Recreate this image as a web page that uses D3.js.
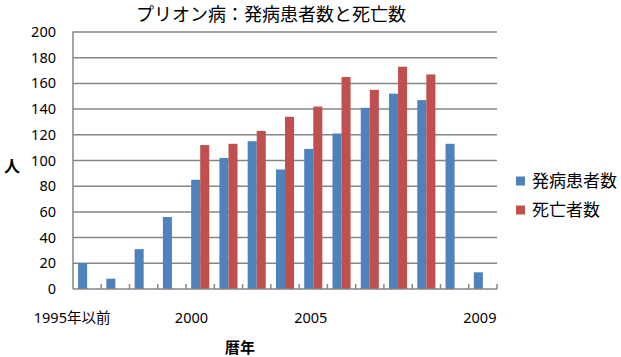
<!DOCTYPE html>
<html><head><meta charset="utf-8">
<script src="https://cdn.jsdelivr.net/npm/d3@7/dist/d3.min.js"></script>
<style>
html,body{margin:0;padding:0;background:#fff;}
svg{display:block;}
</style></head>
<body>
<script>
const categories = ["1995年以前","1996","1997","1998","1999","2000","2001","2002","2003","2004","2005","2006","2007","2008","2009"];
const onsetValues = [20,8,31,56,85,102,115,93,109,121,141,152,147,113,13];
const deathValues = [null,null,null,null,112,113,123,134,142,165,155,173,167,null,null];
const seriesNames = ["発病患者数","死亡者数"];
const yTicks = [0,20,40,60,80,100,120,140,160,180,200];
const xTickLabels = ["1995年以前","2000","2005","2009"];
const titleText = "プリオン病：発病患者数と死亡数";
const yTitle = "人";
const xTitle = "暦年";

const W = 621, H = 357;
const colors = ["#4F81BD","#C0504D"];
const font = "'Noto Sans', 'Noto Sans CJK JP', sans-serif";
const plot = {left:73, right:497, top:32, bottom:289};

const svg = d3.select("body").append("svg").attr("width",W).attr("height",H);

const x = d3.scaleBand().domain(categories).range([plot.left, plot.right]).paddingInner(0).paddingOuter(0);
const y = d3.scaleLinear().domain([0,200]).range([plot.bottom, plot.top]);
const bw = x.bandwidth();
const barW = bw*0.32;

// gridlines
svg.append("g").selectAll("line").data(yTicks.filter(d=>d>0)).join("line")
  .attr("x1",plot.left).attr("x2",plot.right)
  .attr("y1",d=>y(d)).attr("y2",d=>y(d))
  .attr("stroke","#868686").attr("stroke-width",1.5);

// bars
const series = [onsetValues, deathValues];
series.forEach((vals,si)=>{
  svg.append("g").selectAll("rect")
    .data(categories.map((c,i)=>({c, v:vals[i]})).filter(d=>d.v!=null))
    .join("rect")
    .attr("x",d=>x(d.c)+bw/2 - barW + si*barW)
    .attr("width",barW)
    .attr("y",d=>y(d.v))
    .attr("height",d=>y(0)-y(d.v))
    .attr("fill",colors[si]);
});

// axes lines
svg.append("line").attr("x1",plot.left).attr("x2",plot.left).attr("y1",plot.top-0.5).attr("y2",plot.bottom)
  .attr("stroke","#868686").attr("stroke-width",1.5);
svg.append("line").attr("x1",plot.left).attr("x2",plot.right).attr("y1",plot.bottom).attr("y2",plot.bottom)
  .attr("stroke","#868686").attr("stroke-width",1.5);
// category boundary ticks (inside)
svg.append("g").selectAll("line").data(categories.slice(1).concat(["__end"])).join("line")
  .attr("x1",d=>d==="__end"?plot.right:x(d)).attr("x2",d=>d==="__end"?plot.right:x(d))
  .attr("y1",plot.bottom).attr("y2",plot.bottom-5)
  .attr("stroke","#868686").attr("stroke-width",1.5);

// y tick labels
svg.append("g").selectAll("text").data(yTicks).join("text")
  .attr("x",56).attr("y",d=>y(d)).attr("dy","0.35em")
  .attr("text-anchor","end").attr("font-family",font).attr("font-size",14.5).attr("fill","#000")
  .text(d=>d);

// x tick labels (placed as in the reference)
const xLabelNudge = [-15,-37,-59,-3];
svg.append("g").selectAll("text").data(xTickLabels).join("text")
  .attr("x",(d,i)=>x(d)+bw/2+xLabelNudge[i]).attr("y",323)
  .attr("text-anchor","middle").attr("font-family",font).attr("font-size",14.5).attr("fill","#000")
  .text(d=>d);

// titles
svg.append("text").attr("x",271).attr("y",21).attr("text-anchor","middle")
  .attr("font-family",font).attr("font-size",18).attr("fill","#000").text(titleText);
svg.append("text").attr("x",12).attr("y",166).attr("dy","0.35em").attr("text-anchor","middle")
  .attr("font-family",font).attr("font-size",16).attr("font-weight","bold").attr("fill","#000").text(yTitle);
svg.append("text").attr("x",240).attr("y",348).attr("dy","0.35em").attr("text-anchor","middle")
  .attr("font-family",font).attr("font-size",15).attr("font-weight","bold").attr("fill","#000").text(xTitle);

// legend
const lg = svg.append("g");
seriesNames.forEach((n,i)=>{
  const ly = 181 + i*29;
  lg.append("rect").attr("x",516).attr("y",ly-4.5).attr("width",9).attr("height",9).attr("fill",colors[i]);
  lg.append("text").attr("x",532).attr("y",ly).attr("dy","0.35em")
    .attr("font-family",font).attr("font-size",17).attr("fill","#000").text(n);
});
</script>
</body></html>
